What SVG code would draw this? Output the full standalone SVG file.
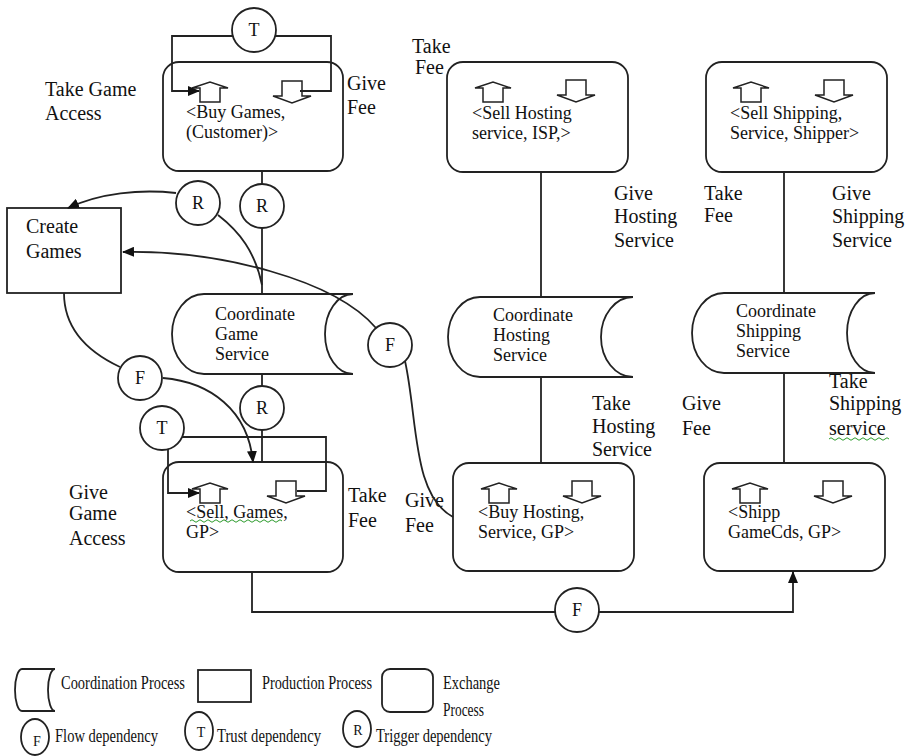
<svg xmlns="http://www.w3.org/2000/svg" width="910" height="756" viewBox="0 0 910 756">
<style>
 text { font-family: "Liberation Serif", "Times New Roman", serif; fill: #111; }
 .lbl { font-size: 20px; }
 .in { font-size: 18px; }
 .dep { font-size: 18px; text-anchor: middle; }
 .box { fill: none; stroke: #222; stroke-width: 1.8; }
 .coord { fill: #fff; stroke: #222; stroke-width: 1.8; }
 .circ { fill: #fff; stroke: #222; stroke-width: 1.8; }
 .ln { fill: none; stroke: #222; stroke-width: 1.8; }
 .blk { fill: #fff; stroke: #222; stroke-width: 1.5; }
 .leg { font-size: 18px; }
 .ldep { font-size: 14px; text-anchor: middle; }
 .wave { fill: none; stroke: #2a9a2a; stroke-width: 1; }
</style>
<defs>
 <marker id="ah" markerWidth="12" markerHeight="10" refX="11" refY="5" orient="auto" markerUnits="userSpaceOnUse">
  <path d="M0,0 L12,5 L0,10 Z" fill="#111"/>
 </marker>
 <path id="up" d="M0,6 L18,0 L36,6 L28,6 L28,20 L8,20 L8,6 Z"/>
 <path id="dn" d="M9,0 L29,0 L29,15 L38,15 L19,22 L0,15 L9,15 Z"/>
</defs>
<rect width="910" height="756" fill="#fff"/>

<!-- free labels -->
<g id="labels" class="lbl">
 <text x="45" y="96">Take Game</text><text x="45" y="120">Access</text>
 <text x="347" y="90">Give</text><text x="347" y="114">Fee</text>
 <text x="412" y="53">Take</text><text x="415" y="74">Fee</text>
 <text x="614" y="200">Give</text><text x="614" y="223">Hosting</text><text x="614" y="247">Service</text>
 <text x="704" y="200">Take</text><text x="704" y="222">Fee</text>
 <text x="832" y="200">Give</text><text x="832" y="223">Shipping</text><text x="832" y="247">Service</text>
 <text x="592" y="410">Take</text><text x="592" y="433">Hosting</text><text x="592" y="456">Service</text>
 <text x="682" y="410">Give</text><text x="682" y="435">Fee</text>
 <text x="829" y="388">Take</text><text x="829" y="410">Shipping</text><text x="829" y="435">service</text>
 <text x="69" y="499">Give</text><text x="69" y="520">Game</text><text x="69" y="545">Access</text>
 <text x="348" y="502">Take</text><text x="348" y="527">Fee</text>
 <text x="405" y="507">Give</text><text x="405" y="532">Fee</text>
</g>
<path class="wave" d="M829 439 q2 -2.5 4 0 t4 0 t4 0 t4 0 t4 0 t4 0 t4 0 t4 0 t4 0 t4 0 t4 0 t4 0 t4 0 t4 0 t4 0"/>

<!-- exchange / production / coordination nodes -->
<g id="buy-games">
 <rect class="box" x="163" y="62" width="180" height="109" rx="16"/>
 <use href="#up" x="192" y="82" class="blk"/><use href="#dn" x="273" y="81" class="blk"/>
 <text class="in" x="186" y="118">&lt;Buy Games,</text><text class="in" x="186" y="138">(Customer)&gt;</text>
</g>
<g id="sell-hosting">
 <rect class="box" x="447" y="62" width="181" height="110" rx="16"/>
 <use href="#up" x="475" y="82" class="blk"/><use href="#dn" x="557" y="80" class="blk"/>
 <text class="in" x="472" y="119">&lt;Sell Hosting</text><text class="in" x="472" y="139">service, ISP,&gt;</text>
</g>
<g id="sell-shipping">
 <rect class="box" x="706" y="62" width="181" height="110" rx="16"/>
 <use href="#up" x="733" y="82" class="blk"/><use href="#dn" x="815" y="80" class="blk"/>
 <text class="in" x="730" y="119">&lt;Sell Shipping,</text><text class="in" x="730" y="139">Service, Shipper&gt;</text>
</g>
<g id="create-games">
 <rect class="box" x="7" y="208" width="114" height="85"/>
 <text class="lbl" x="26" y="233">Create</text><text class="lbl" x="26" y="258">Games</text>
</g>
<g id="coord-game">
 <path class="coord" d="M204 294 L353 294 A28 40 0 0 0 353 374 L204 374 A32 40 0 0 1 204 294 Z"/>
 <text class="in" x="215" y="320">Coordinate</text><text class="in" x="215" y="340">Game</text><text class="in" x="215" y="360">Service</text>
</g>
<g id="coord-hosting">
 <path class="coord" d="M480 297 L633 297 A32 40 0 0 0 633 377 L480 377 A32 40 0 0 1 480 297 Z"/>
 <text class="in" x="493" y="321">Coordinate</text><text class="in" x="493" y="341">Hosting</text><text class="in" x="493" y="361">Service</text>
</g>
<g id="coord-shipping">
 <path class="coord" d="M724 293 L875 293 A28 40 0 0 0 875 373 L724 373 A32 40 0 0 1 724 293 Z"/>
 <text class="in" x="736" y="317">Coordinate</text><text class="in" x="736" y="337">Shipping</text><text class="in" x="736" y="357">Service</text>
</g>
<g id="sell-games">
 <rect class="box" x="163" y="462" width="180" height="110" rx="16"/>
 <use href="#up" x="192" y="483" class="blk"/><use href="#dn" x="267" y="481" class="blk"/>
 <text class="in" x="186" y="518">&lt;Sell, Games,</text><text class="in" x="186" y="538">GP&gt;</text>
 <path class="wave" d="M190 521 q2 -2.5 4 0 t4 0 t4 0 t4 0 t4 0 t4 0 t4 0 t4 0 t4 0 t4 0 t4 0 t4 0 t4 0 t4 0 t4 0 t4 0 t4 0 t4 0 t4 0 t4 0 t4 0 t4 0 t4 0"/>
</g>
<g id="buy-hosting">
 <rect class="box" x="453" y="463" width="181" height="108" rx="16"/>
 <use href="#up" x="481" y="483" class="blk"/><use href="#dn" x="563" y="481" class="blk"/>
 <text class="in" x="478" y="518">&lt;Buy Hosting,</text><text class="in" x="478" y="538">Service, GP&gt;</text>
</g>
<g id="ship-gamecds">
 <rect class="box" x="704" y="463" width="181" height="108" rx="16"/>
 <use href="#up" x="732" y="483" class="blk"/><use href="#dn" x="814" y="481" class="blk"/>
 <text class="in" x="728" y="518">&lt;Shipp</text><text class="in" x="728" y="538">GameCds, GP&gt;</text>
</g>

<!-- connectors -->
<g id="connectors" class="ln">
 <path d="M300 91 H331 V36 H172 V91 H199" marker-end="url(#ah)"/>
 <path d="M262 171 V294"/>
 <path d="M176 193 C140 189 100 193 68 208" marker-end="url(#ah)"/>
 <path d="M218 215 C240 232 255 252 262 285"/>
 <path d="M376 328 C335 280 220 250 123 252" marker-end="url(#ah)"/>
 <path d="M405 361 C418 420 412 495 453 517"/>
 <path d="M64 293 C64 330 88 352 120 367"/>
 <path d="M163 378 C210 382 248 410 253 462" marker-end="url(#ah)"/>
 <path d="M262 374 V462"/>
 <path d="M297 491 H326 V437 H168 V493 H199" marker-end="url(#ah)"/>
 <path d="M252 572 V612 H793 V572" marker-end="url(#ah)"/>
 <path d="M541 172 V297"/>
 <path d="M541 377 V463"/>
 <path d="M784 172 V293"/>
 <path d="M784 373 V463"/>
</g>

<!-- dependency nodes -->
<g id="dep-t-top"><circle class="circ" cx="254" cy="30" r="22"/><text class="dep" x="254" y="36">T</text></g>
<g id="dep-r-left"><circle class="circ" cx="198" cy="203" r="22"/><text class="dep" x="198" y="209">R</text></g>
<g id="dep-r-top"><circle class="circ" cx="262" cy="206" r="22"/><text class="dep" x="262" y="212">R</text></g>
<g id="dep-f-coord"><circle class="circ" cx="390" cy="345" r="22"/><text class="dep" x="390" y="351">F</text></g>
<g id="dep-f-left"><circle class="circ" cx="140" cy="378" r="22"/><text class="dep" x="140" y="384">F</text></g>
<g id="dep-r-bottom"><circle class="circ" cx="262" cy="408" r="22"/><text class="dep" x="262" y="414">R</text></g>
<g id="dep-t-bottom"><circle class="circ" cx="162" cy="428" r="22"/><text class="dep" x="162" y="434">T</text></g>
<g id="dep-f-bottom"><circle class="circ" cx="577" cy="610" r="22"/><text class="dep" x="577" y="616">F</text></g>

<!-- legend -->
<g id="legend">
 <path class="coord" d="M22 669 L55 669 A7 21 0 0 0 55 711 L22 711 A7 21 0 0 1 22 669 Z"/>
 <text class="leg" x="61" y="689" textLength="124" lengthAdjust="spacingAndGlyphs">Coordination Process</text>
 <rect class="box" x="198" y="670" width="53" height="32"/>
 <text class="leg" x="262" y="689" textLength="110" lengthAdjust="spacingAndGlyphs">Production Process</text>
 <rect class="box" x="382" y="669" width="51" height="43" rx="8"/>
 <text class="leg" x="443" y="689" textLength="57" lengthAdjust="spacingAndGlyphs">Exchange</text>
 <text class="leg" x="443" y="716" textLength="41" lengthAdjust="spacingAndGlyphs">Process</text>
 <ellipse class="circ" cx="35" cy="737" rx="14" ry="18"/><text class="ldep" x="37" y="746">F</text>
 <text class="leg" x="55" y="742" textLength="103" lengthAdjust="spacingAndGlyphs">Flow dependency</text>
 <ellipse class="circ" cx="199" cy="731" rx="14" ry="19"/><text class="ldep" x="201" y="737">T</text>
 <text class="leg" x="217" y="742" textLength="104" lengthAdjust="spacingAndGlyphs">Trust dependency</text>
 <ellipse class="circ" cx="357" cy="729" rx="14" ry="18"/><text class="ldep" x="358" y="735">R</text>
 <text class="leg" x="376" y="742" textLength="116" lengthAdjust="spacingAndGlyphs">Trigger dependency</text>
</g>
</svg>
